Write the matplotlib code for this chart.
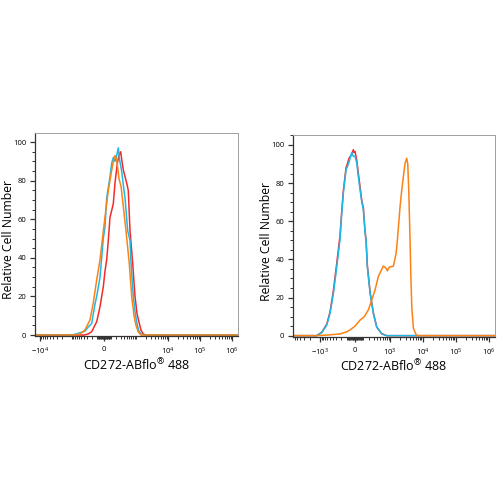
import numpy as np
import matplotlib
matplotlib.use("Agg")
import matplotlib.pyplot as plt
from matplotlib.ticker import FixedLocator, FixedFormatter, MultipleLocator

plt.rcParams['font.family'] = ['Open Sans', 'DejaVu Sans']
plt.rcParams['mathtext.fontset'] = 'custom'
plt.rcParams['mathtext.rm'] = 'Open Sans'
plt.rcParams['mathtext.it'] = 'Open Sans'

# Left panel histograms (fluorescence vs relative count)
left_red_x = [-14000, -398, -285, -201, -110, -58, -10, 14, 39, 63, 89, 144, 175, 222, 260,
              302, 337, 377, 492, 556, 610, 634, 776, 920, 1066, 1260, 1426, 1684, 2048, 1.5e6]
left_red_y = [0, 0, 0.5, 1.7, 6.9, 14.7, 25, 33, 39, 49, 61, 68, 78.7, 89, 93,
              95, 90, 85.5, 78.7, 75, 60, 54, 37, 20, 11, 6, 2.5, 0.5, 0, 0]

left_cyan_x = [-14000, -988, -634, -368, -285, -201, -139, -110, -58, -10, 14, 39, 89, 117, 144,
               175, 209, 244, 273, 328, 398, 432, 532, 634, 684, 812, 920, 1090, 1232, 1500, 1772, 1.5e6]
left_cyan_y = [0, 0, 0.8, 2, 4, 6, 16, 20, 30, 50, 56, 71, 82, 89, 92,
               90, 93, 97, 91, 85, 75, 71, 54, 49, 37, 20, 12, 5, 2, 0.3, 0, 0]

left_orange_x = [-14000, -794, -546, -368, -238, -170, -110, -58, -19, 14, 63, 117, 144, 175,
                 209, 244, 260, 312, 377, 466, 600, 720, 854, 988, 1172, 1426, 1.5e6]
left_orange_y = [0, 0, 0.5, 2.6, 7.8, 16.6, 28.5, 39, 51, 61, 75, 85.5, 90, 93,
                 90.7, 84, 81, 77, 66.5, 54, 37, 20, 10, 5, 1.5, 0, 0]

# Right panel histograms
right_red_x = [-6600, -1269, -890, -621, -488, -380, -291, -222, -188, -160, -118, -99, -76, -41, -21, -10,
               0, 21, 41, 63, 85, 108, 133, 149, 170, 222, 291, 380, 553, 794, 1.5e6]
right_red_y = [0, 0, 1.8, 6, 12.5, 23.5, 38, 52, 65, 76, 88, 90, 93, 95, 97.5, 96,
               96.5, 92, 85, 78, 71, 67, 55, 50, 37, 22.5, 12, 4.5, 1, 0, 0]

right_cyan_x = [-6600, -1269, -890, -621, -488, -380, -291, -222, -188, -160, -118, -99, -76, -41, -21,
                0, 21, 41, 63, 85, 108, 133, 149, 170, 222, 291, 380, 553, 794, 1.5e6]
right_cyan_y = [0, 0, 1.6, 5.6, 11.7, 22, 36, 50, 64, 74.8, 87, 88.6, 91, 96, 94,
                94, 90.5, 83.4, 76.4, 70.3, 66, 54, 50, 36, 22, 11.7, 4.5, 1, 0, 0]

right_orange_x = [-6600, -1269, -621, -222, -108, -63, 0, 63, 118, 188, 255, 334, 429, 512, 621, 755,
                  829, 957, 1269, 1533, 1681, 2029, 2288, 2559, 2881, 3245, 3481, 3731, 4083, 4294,
                  4605, 5143, 6210, 7290, 1.5e6]
right_orange_y = [0, 0, 0.3, 0.9, 2, 3, 5, 8.2, 9.8, 13.5, 18.7, 24, 31, 33.6, 36.5, 35.3,
                  34, 36, 36.4, 43, 50, 67.6, 76.4, 83.4, 90.4, 93, 90, 76, 50, 33,
                  15, 4, 0.5, 0, 0]

left_ticks = [-1e4, 0, 1e4, 1e5, 1e6]
left_labels = ['$-10^4$', '0', '$10^4$', '$10^5$', '$10^6$']
right_ticks = [-1e3, 0, 1e3, 1e4, 1e5, 1e6]
right_labels = ['$-10^3$', '0', '$10^3$', '$10^4$', '$10^5$', '$10^6$']

RED = '#f42a2a'
CYAN = '#1cb9e6'
ORANGE = '#fb8214'

fig = plt.figure(figsize=(5, 5), dpi=100)


def style_axis(ax, lin_w, xlim, ylim, ticks, labels):
    ax.set_xscale('asinh', linear_width=lin_w)
    ax.set_xlim(*xlim)
    ax.set_ylim(*ylim)
    ax.xaxis.set_major_locator(FixedLocator(ticks))
    ax.xaxis.set_major_formatter(FixedFormatter(labels))
    minors = [s * k * 10 ** n for n in range(1, 6) for k in range(1, 10) for s in (-1, 1)]
    minors = [m for m in minors if xlim[0] < m < xlim[1] and m not in ticks]
    ax.xaxis.set_minor_locator(FixedLocator(minors))
    ax.set_yticks([0, 20, 40, 60, 80, 100])
    ax.yaxis.set_minor_locator(MultipleLocator(5))
    ax.tick_params(axis='both', which='major', length=3.8, width=0.9, labelsize=5.5, color='#333333')
    ax.tick_params(axis='both', which='minor', length=2.2, width=0.7, color='#333333')
    ax.tick_params(axis='x', pad=3.5)
    ax.tick_params(axis='y', pad=2.5)
    for s in ['left', 'bottom']:
        ax.spines[s].set_color('#333333')
        ax.spines[s].set_linewidth(0.9)
    for s in ['top', 'right']:
        ax.spines[s].set_color('#a0a0a0')
        ax.spines[s].set_linewidth(0.7)
    ax.set_xlabel(r'CD272-ABflo$^{\circledR}$ 488', fontsize=9, labelpad=0)
    ax.set_ylabel('Relative Cell Number', fontsize=8.8)
    ax.yaxis.set_label_coords(-0.10, 0.475)


ax1 = fig.add_axes([0.07, 0.328, 0.406, 0.406])
ax1.plot(left_red_x, left_red_y, color=RED, lw=1.1)
ax1.plot(left_cyan_x, left_cyan_y, color=CYAN, lw=1.1)
ax1.plot(left_orange_x, left_orange_y, color=ORANGE, lw=1.1)
style_axis(ax1, 200, (-14270, 1.53e6), (-0.5, 104.7), left_ticks, left_labels)

ax2 = fig.add_axes([0.586, 0.326, 0.404, 0.404])
ax2.plot(right_red_x, right_red_y, color=RED, lw=1.1)
ax2.plot(right_cyan_x, right_cyan_y, color=CYAN, lw=1.1)
ax2.plot(right_orange_x, right_orange_y, color=ORANGE, lw=1.1)
style_axis(ax2, 176, (-6670, 1.53e6), (-0.7, 105.2), right_ticks, right_labels)

fig.savefig('out.png', dpi=100)
